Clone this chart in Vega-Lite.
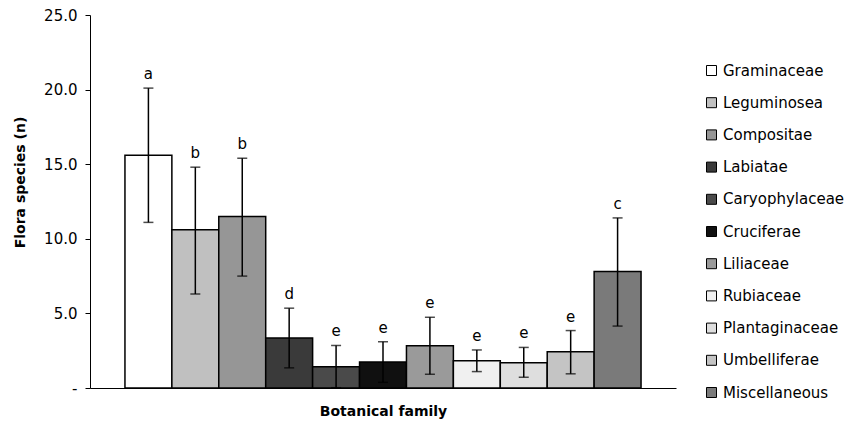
{
  "$schema": "https://vega.github.io/schema/vega-lite/v6.json",
  "width": 586,
  "height": 373,
  "autosize": {"type": "none"},
  "padding": {"left": 90, "top": 15, "right": 180, "bottom": 35},
  "background": "white",
  "config": {
    "view": {"stroke": null},
    "font": "DejaVu Sans",
    "axis": {"grid": false, "domainColor": "black", "tickColor": "black", "labelColor": "black", "titleColor": "black"}
  },
  "data": {
    "values": [
      {"family": "Graminaceae", "mean": 15.6, "lo": 11.1, "hi": 20.1, "letter": "a"},
      {"family": "Leguminosea", "mean": 10.6, "lo": 6.3, "hi": 14.8, "letter": "b"},
      {"family": "Compositae", "mean": 11.5, "lo": 7.5, "hi": 15.4, "letter": "b"},
      {"family": "Labiatae", "mean": 3.35, "lo": 1.35, "hi": 5.35, "letter": "d"},
      {"family": "Caryophylaceae", "mean": 1.43, "lo": 0.02, "hi": 2.85, "letter": "e"},
      {"family": "Cruciferae", "mean": 1.74, "lo": 0.38, "hi": 3.1, "letter": "e"},
      {"family": "Liliaceae", "mean": 2.84, "lo": 0.92, "hi": 4.74, "letter": "e"},
      {"family": "Rubiaceae", "mean": 1.83, "lo": 1.1, "hi": 2.55, "letter": "e"},
      {"family": "Plantaginaceae", "mean": 1.7, "lo": 0.72, "hi": 2.72, "letter": "e"},
      {"family": "Umbelliferae", "mean": 2.43, "lo": 0.95, "hi": 3.85, "letter": "e"},
      {"family": "Miscellaneous", "mean": 7.8, "lo": 4.15, "hi": 11.4, "letter": "c"}
    ]
  },
  "encoding": {
    "x": {
      "field": "family", "type": "nominal", "sort": null,
      "scale": {"paddingInner": 0, "paddingOuter": 0.745},
      "axis": {"title": "Botanical family", "labels": false, "ticks": false, "titleFont": "DejaVu Sans", "titleFontWeight": "bold", "titleFontSize": 14, "titlePadding": 16}
    }
  },
  "layer": [
    {
      "mark": {"type": "bar", "stroke": "black", "strokeWidth": 1.5},
      "encoding": {
        "y": {
          "field": "mean", "type": "quantitative",
          "scale": {"domain": [0, 25], "nice": false},
          "axis": {
            "values": [0, 5, 10, 15, 20, 25],
            "labelExpr": "datum.value == 0 ? '-\u00a0\u00a0\u00a0\u00a0\u00a0' : format(datum.value, '.1f')",
            "labelFontSize": 15, "labelPadding": 8, "tickSize": 5, "labelOverlap": false,
            "title": "Flora species (n)", "titleFontSize": 14, "titleFontWeight": "bold",
            "titleX": -63, "titleY": 167
          }
        },
        "fill": {
          "field": "family", "type": "nominal", "sort": null,
          "scale": {
            "domain": ["Graminaceae", "Leguminosea", "Compositae", "Labiatae", "Caryophylaceae", "Cruciferae", "Liliaceae", "Rubiaceae", "Plantaginaceae", "Umbelliferae", "Miscellaneous"],
            "range": ["#ffffff", "#c0c0c0", "#969696", "#3a3a3a", "#4a4a4a", "#101010", "#9a9a9a", "#f0f0f0", "#dedede", "#c4c4c4", "#7a7a7a"]
          },
          "legend": {
            "title": null, "orient": "none", "legendX": 614, "legendY": 48,
            "padding": 0, "symbolType": "square", "symbolSize": 100,
            "symbolStrokeColor": "black", "symbolStrokeWidth": 1,
            "labelFont": "DejaVu Sans", "labelFontSize": 15, "labelColor": "black",
            "labelOffset": 4, "rowPadding": 16.2, "labelLimit": 300
          }
        }
      }
    },
    {
      "mark": {"type": "rule", "color": "black", "strokeWidth": 1.5},
      "encoding": {"y": {"field": "lo", "type": "quantitative"}, "y2": {"field": "hi"}}
    },
    {
      "mark": {"type": "tick", "color": "black", "size": 10, "thickness": 1.5},
      "encoding": {"y": {"field": "hi", "type": "quantitative"}}
    },
    {
      "mark": {"type": "tick", "color": "black", "size": 10, "thickness": 1.5},
      "encoding": {"y": {"field": "lo", "type": "quantitative"}}
    },
    {
      "mark": {"type": "text", "fontSize": 15, "baseline": "alphabetic", "dy": -9, "color": "black"},
      "encoding": {"y": {"field": "hi", "type": "quantitative"}, "text": {"field": "letter"}}
    }
  ]
}
